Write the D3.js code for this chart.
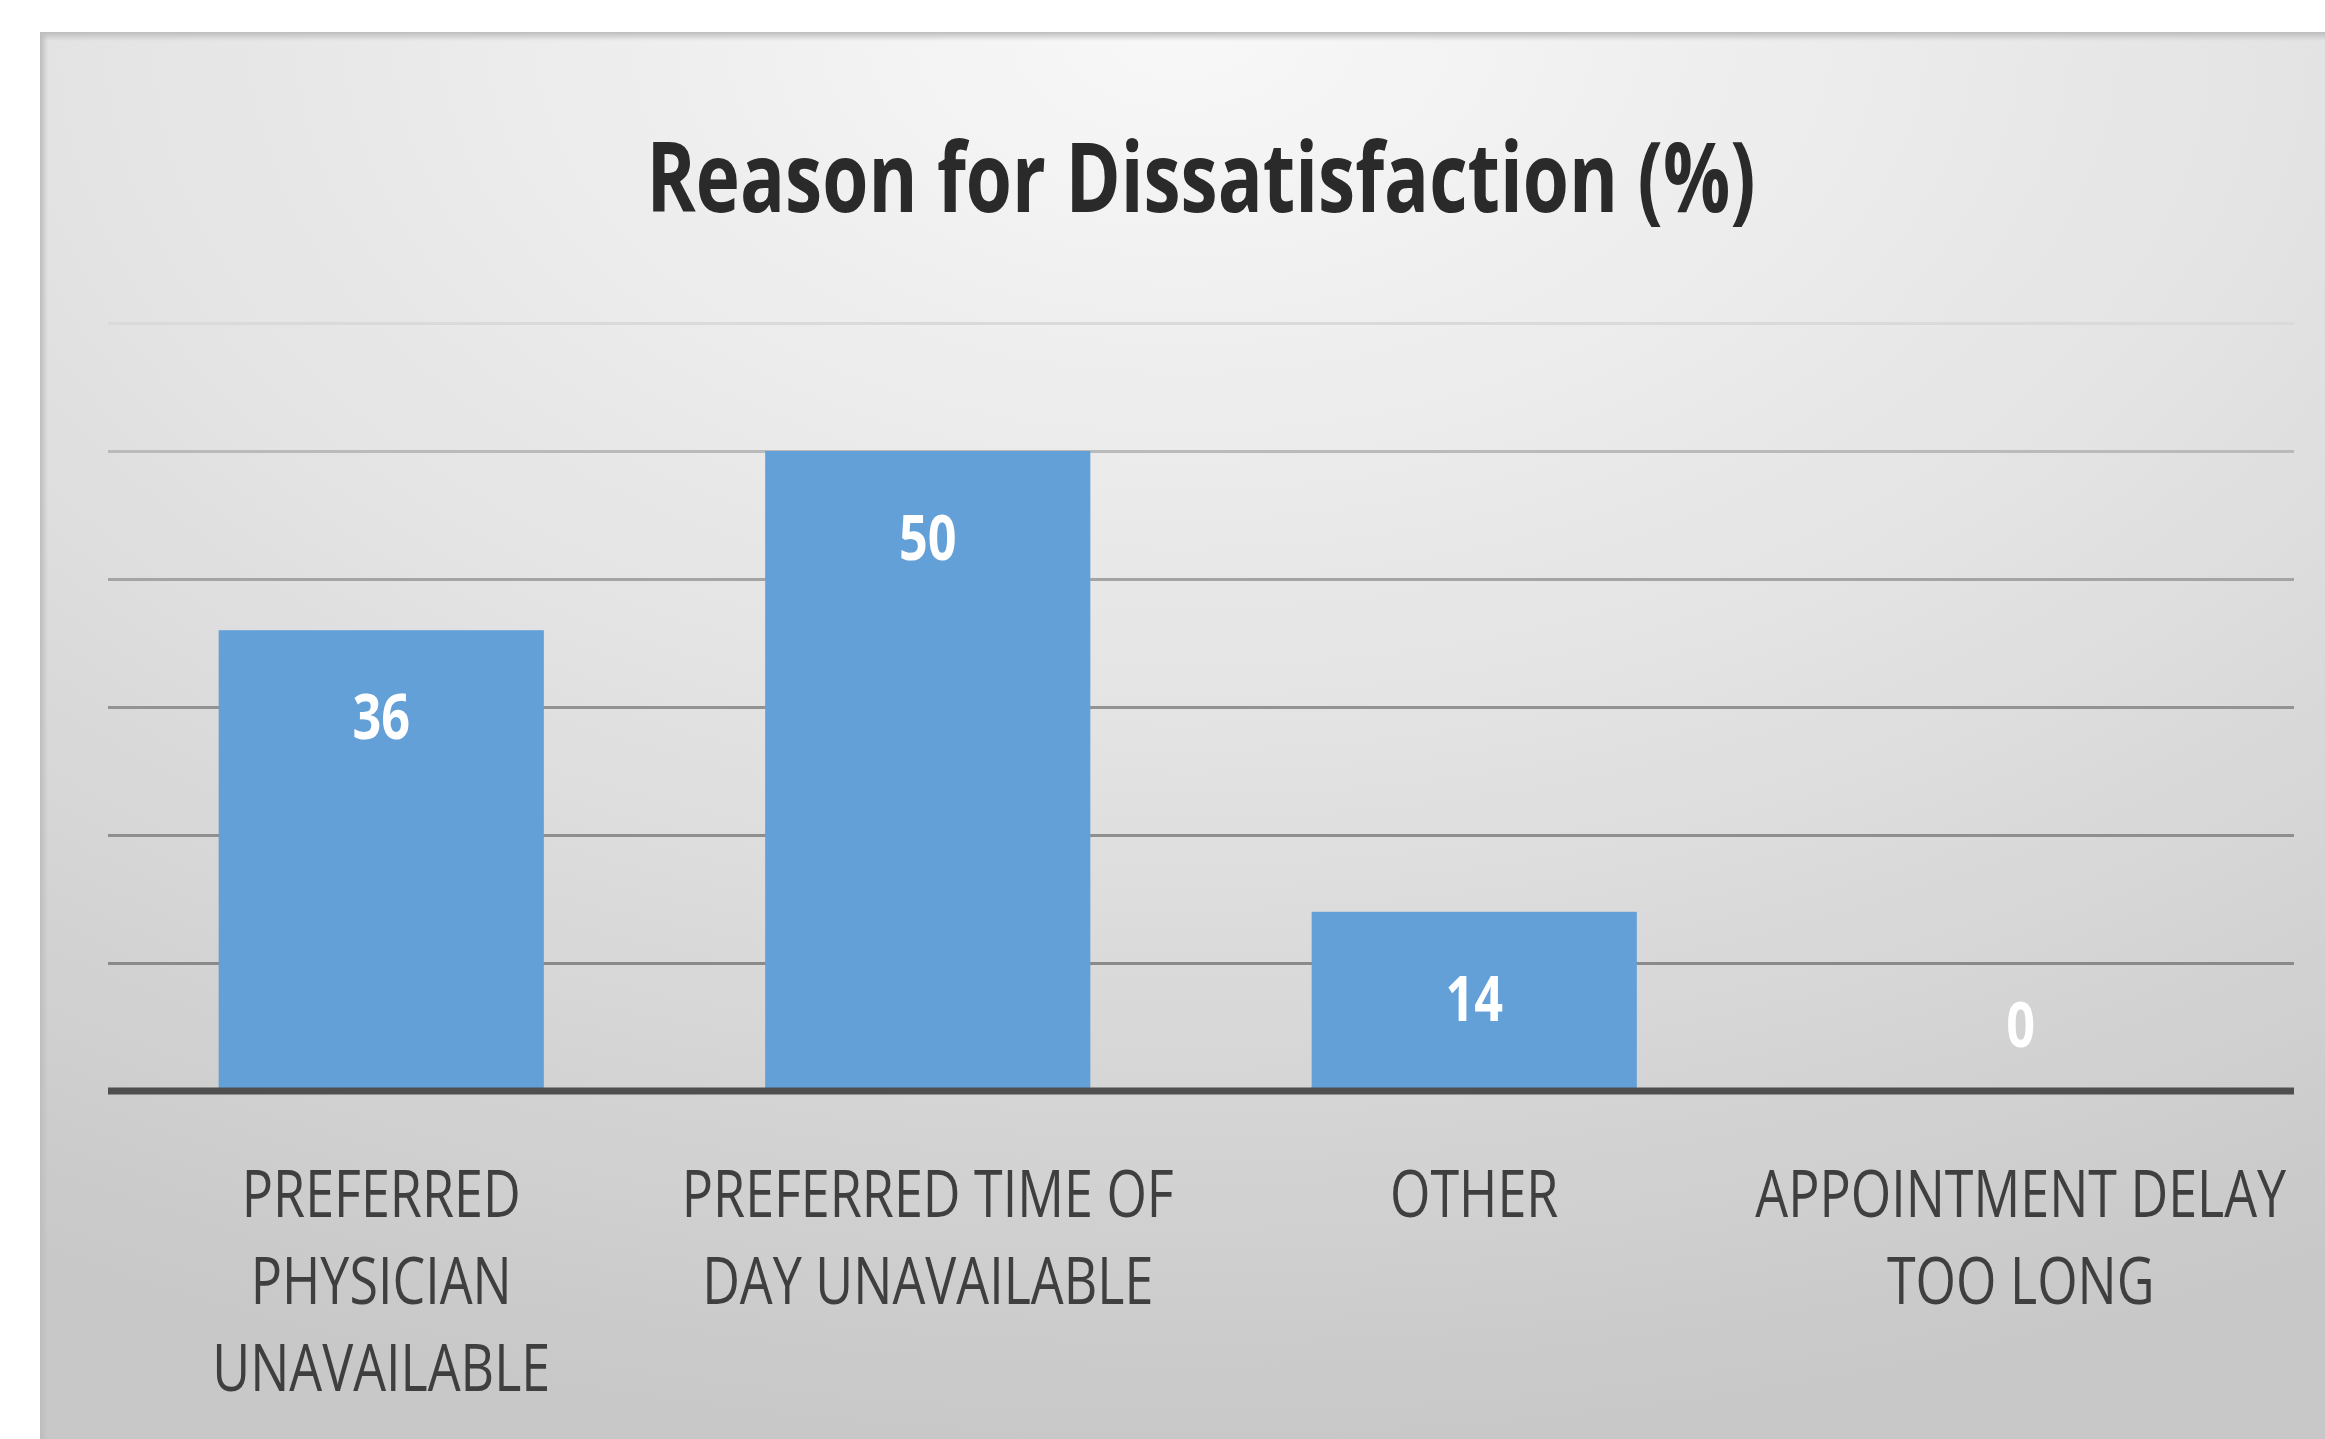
<!DOCTYPE html>
<html>
<head>
<meta charset="utf-8">
<title>Reason for Dissatisfaction (%)</title>
<script src="https://cdn.jsdelivr.net/npm/d3@7/dist/d3.min.js"></script>
<style>
  html, body { margin: 0; padding: 0; background: #ffffff; }
  svg { display: block; }
</style>
</head>
<body>
<svg id="chart" width="2325" height="1439"></svg>
<script>
// Chart data
const chartTitle = "Reason for Dissatisfaction (%)";
const categories = [
  ["PREFERRED", "PHYSICIAN", "UNAVAILABLE"],
  ["PREFERRED TIME OF", "DAY UNAVAILABLE"],
  ["OTHER"],
  ["APPOINTMENT DELAY", "TOO LONG"]
];
const values = [36, 50, 14, 0];
const yDomain = [0, 60];
const gridTicks = [10, 20, 30, 40, 50, 60];

const W = 2325, H = 1439;
const panel = { x: 40, y: 32 };
const plot = { left: 108, right: 2294, top: 323, bottom: 1091 };
const squeeze = 0.8;       // narrow the glyphs to a condensed look
const titleSqueeze = 0.77;

const svg = d3.select("#chart");
const defs = svg.append("defs");

// panel background: soft light spot at the top centre
const bg = defs.append("radialGradient").attr("id", "panelBg")
  .attr("cx", "50%").attr("cy", "0%").attr("r", "100%")
  .attr("fx", "50%").attr("fy", "0%");
bg.append("stop").attr("offset", "0").attr("stop-color", "#f8f8f8");
bg.append("stop").attr("offset", "0.5").attr("stop-color", "#e3e3e3");
bg.append("stop").attr("offset", "1").attr("stop-color", "#c8c8c8");

// top and left edge shading of the panel
const edgeTop = defs.append("linearGradient").attr("id", "edgeTop")
  .attr("x1", 0).attr("y1", 0).attr("x2", 0).attr("y2", 1);
edgeTop.append("stop").attr("offset", "0").attr("stop-color", "#bdbdbd").attr("stop-opacity", 1);
edgeTop.append("stop").attr("offset", "1").attr("stop-color", "#bdbdbd").attr("stop-opacity", 0);
const edgeLeft = defs.append("linearGradient").attr("id", "edgeLeft")
  .attr("x1", 0).attr("y1", 0).attr("x2", 1).attr("y2", 0);
edgeLeft.append("stop").attr("offset", "0").attr("stop-color", "#bdbdbd").attr("stop-opacity", 1);
edgeLeft.append("stop").attr("offset", "1").attr("stop-color", "#bdbdbd").attr("stop-opacity", 0);

svg.append("rect").attr("x", 0).attr("y", 0).attr("width", W).attr("height", H).attr("fill", "#ffffff");
svg.append("rect").attr("x", panel.x).attr("y", panel.y)
  .attr("width", W - panel.x).attr("height", H - panel.y).attr("fill", "url(#panelBg)");
svg.append("rect").attr("x", panel.x).attr("y", panel.y)
  .attr("width", W - panel.x).attr("height", 9).attr("fill", "url(#edgeTop)");
svg.append("rect").attr("x", panel.x).attr("y", panel.y)
  .attr("width", 8).attr("height", H - panel.y).attr("fill", "url(#edgeLeft)");

// scales
const x = d3.scaleBand()
  .domain(d3.range(categories.length))
  .range([plot.left, plot.right])
  .paddingInner(0.405)
  .paddingOuter(0.2025);
const y = d3.scaleLinear().domain(yDomain).range([plot.bottom, plot.top]);

// gridline shade: darker near the axis, fading toward the top
const gridShade = d3.scaleLinear()
  .domain([10, 30, 40, 50, 60])
  .range(["#8a8a8a", "#939393", "#a4a4a4", "#bababa", "#dadada"]);

// horizontal gridlines
const grid = svg.append("g")
  .attr("transform", `translate(${plot.left},0)`)
  .call(d3.axisLeft(y).tickValues(gridTicks).tickSize(-(plot.right - plot.left)).tickFormat(""));
grid.select(".domain").remove();
grid.selectAll(".tick line")
  .attr("stroke", d => gridShade(d))
  .attr("stroke-width", 3);

// bars
svg.append("g").selectAll("rect")
  .data(values)
  .join("rect")
  .attr("x", (d, i) => x(i))
  .attr("y", d => y(d))
  .attr("width", x.bandwidth())
  .attr("height", d => y(0) - y(d))
  .attr("fill", "#64a0d8");

// category axis line
const xAxis = svg.append("g")
  .attr("transform", `translate(0,${y(0)})`)
  .call(d3.axisBottom(x).tickSize(0).tickFormat(""));
xAxis.select(".domain")
  .attr("stroke", "#4f4f4f")
  .attr("stroke-width", 7)
  .attr("d", `M${plot.left},0H${plot.right}`);

function condense(k) {
  return sel => sel.each(function () {
    const len = this.getComputedTextLength();
    d3.select(this).attr("textLength", len * k).attr("lengthAdjust", "spacingAndGlyphs");
  });
}

// value labels inside the bar ends
svg.append("g").selectAll("text")
  .data(values)
  .join("text")
  .attr("x", (d, i) => x(i) + x.bandwidth() / 2)
  .attr("y", d => d > 0 ? y(d) + 109 : y(0) - 44)
  .attr("text-anchor", "middle")
  .attr("font-family", "'Open Sans', sans-serif")
  .attr("font-weight", 700)
  .attr("font-size", 63)
  .attr("fill", "#ffffff")
  .text(d => d)
  .call(condense(squeeze));

// category labels, one text line per row
const catG = svg.append("g");
categories.forEach((lines, i) => {
  lines.forEach((line, j) => {
    catG.append("text")
      .attr("x", x(i) + x.bandwidth() / 2)
      .attr("y", 1217 + j * 87)
      .attr("text-anchor", "middle")
      .attr("font-family", "'Open Sans', sans-serif")
      .attr("font-size", 65)
      .attr("fill", "#3f3f3f")
      .text(line)
      .call(condense(squeeze));
  });
});

// title
svg.append("text")
  .attr("x", (plot.left + plot.right) / 2)
  .attr("y", 212)
  .attr("text-anchor", "middle")
  .attr("font-family", "'Open Sans', sans-serif")
  .attr("font-weight", 700)
  .attr("font-size", 97)
  .attr("fill", "#2a2a2a")
  .text(chartTitle)
  .call(condense(titleSqueeze));
</script>
</body>
</html>
